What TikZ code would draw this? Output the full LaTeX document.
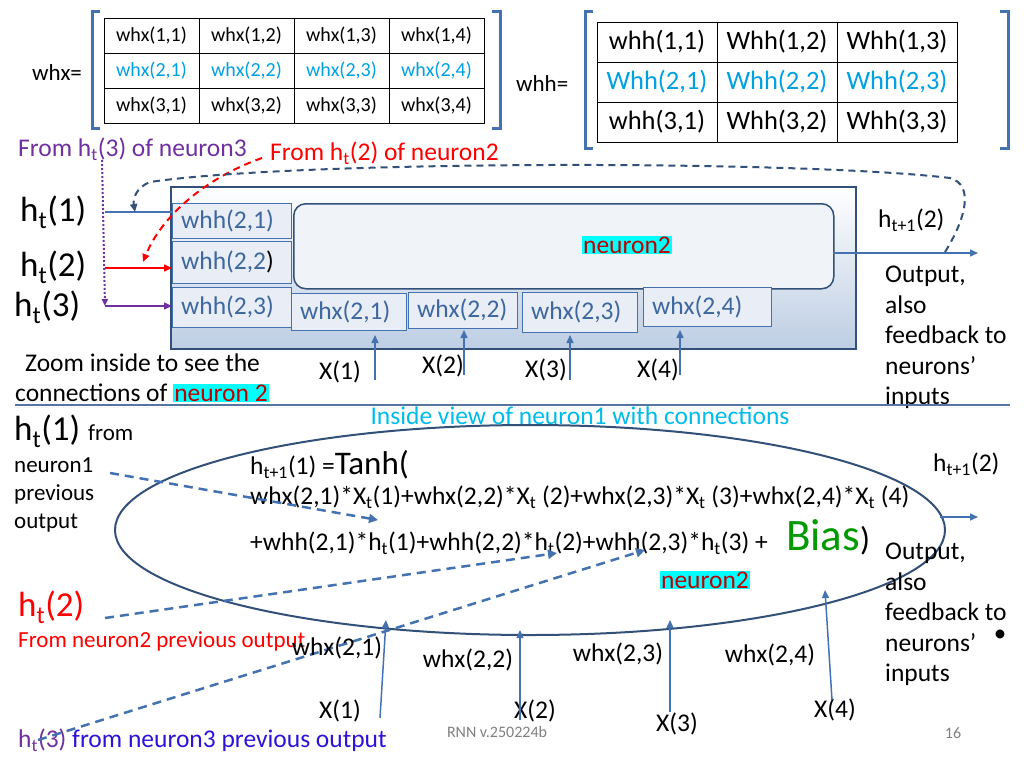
\documentclass[tikz,border=0pt]{standalone}
\usepackage{fontspec}
\setmainfont{Carlito}
\usetikzlibrary{arrows.meta,shadows,shapes.geometric}
\definecolor{bl}{RGB}{68,114,176}
\definecolor{cy}{RGB}{0,160,225}
\definecolor{pu}{RGB}{112,48,160}
\definecolor{dk}{RGB}{50,80,120}
\definecolor{cyb}{RGB}{0,255,255}
\definecolor{dred}{RGB}{192,0,0}
\begin{document}
\begin{tikzpicture}[x=1pt,y=-1pt,
 cell/.style={draw=black,thick,minimum width=95pt,minimum height=35pt,inner sep=0pt,font=\fontsize{20}{20}\selectfont},
 hcell/.style={draw=black,thick,minimum width=120pt,minimum height=40pt,inner sep=0pt,font=\fontsize{26.5}{26.5}\selectfont},
 brk/.style={line width=3pt,bl},
 txt/.style={inner sep=0pt,anchor=west},
 wbox/.style={draw=bl,fill=bl!12,inner xsep=9pt,inner ysep=0pt,font=\fontsize{25.5}{25.5}\selectfont,text=bl!90!black,align=left,anchor=north west},
 ar/.style={bl,line width=1.5pt,-{Triangle[length=8pt,width=7pt]}},
 da/.style={bl,line width=2.5pt,dash pattern=on 9pt off 6pt,-{Triangle[length=9pt,width=9pt]}},
 big/.style={font=\fontsize{35}{35}\selectfont},
 mid/.style={font=\fontsize{25.5}{25.5}\selectfont},
 outl/.style={inner sep=0pt,align=left,anchor=north west,font=\fontsize{25.5}{30.5}\selectfont},
 sm/.style={font=\fontsize{23}{28}\selectfont},
 hl/.style={fill=cyb,text=dred,inner sep=1pt}]
\useasboundingbox (0,0) rectangle (1024,768);
% whx matrix
\foreach \r in {1,2,3}{\foreach \c in {1,2,3,4}{
 \pgfmathsetmacro\xx{104+95*(\c-0.5)}\pgfmathsetmacro\yy{18+35*(\r-0.5)}
 \ifnum\r=2 \node[cell,text=cy] (x\r\c) at (\xx,\yy) {whx(\r,\c)};
 \else \node[cell] (x\r\c) at (\xx,\yy) {whx(\r,\c)};\fi}}
\draw[brk] (100,12)--(92,12)--(92,128)--(100,128);
\draw[brk] (492,12)--(500,12)--(500,128)--(492,128);
\node[txt,sm] (whxl) at (32,73) {whx=};
% whh matrix
\foreach \r in {1,2,3}{\foreach \c in {1,2,3}{
 \pgfmathsetmacro\xx{597+120*(\c-0.5)}\pgfmathsetmacro\yy{22+40*(\r-0.5)}
 \ifnum\r=2 \node[hcell,text=cy] (h\r\c) at (\xx,\yy) {Whh(\r,\c)};
 \else\ifnum\c=1 \node[hcell] (h\r\c) at (\xx,\yy) {whh(\r,\c)};
 \else \node[hcell] (h\r\c) at (\xx,\yy) {Whh(\r,\c)};\fi\fi}}
\draw[brk] (593,12)--(585,12)--(585,148)--(593,148);
\draw[brk] (1000,12)--(1008,12)--(1008,148)--(1000,148);
\node[txt,sm] (whhl) at (516,84) {whh=};
% labels top
\node[txt,text=pu,mid] (f3) at (18,149) {From h\textsubscript{t}(3) of neuron3};
\node[txt,text=red,mid] (f2) at (270,153) {From h\textsubscript{t}(2) of neuron2};
% main box
\node[draw=dk,line width=1.5pt,top color=white,bottom color=bl!35,minimum width=685pt,minimum height=162pt,inner sep=0pt,anchor=north west] (mb) at (170,186) {};
\node[draw=dk,line width=1.5pt,rounded corners=12pt,fill=bl!8,minimum width=540pt,minimum height=85pt,anchor=north west] (ib) at (293,203) {};
\node[hl,mid] (n2a) at (627,245) {neuron2};
\node[wbox,text width=101pt,minimum height=35pt] (w21) at (172,203) {whh(2,1)};
\node[wbox,text width=101pt,minimum height=42pt] (w22) at (172,241) {whh(2,2\textcolor{black}{)}};
\node[wbox,text width=101pt,minimum height=40pt] (w23) at (172,287) {whh(2,3)};
\node[wbox,text width=97pt,minimum height=37pt] (x21) at (291,293) {whx(2,1)};
\node[wbox,text width=91pt,minimum height=36pt] (x22) at (408,292) {whx(2,2)};
\node[wbox,text width=97pt,minimum height=40pt] (x23) at (522,292) {whx(2,3)};
\node[wbox,text width=110pt,minimum height=39pt] (x24) at (643,287) {whx(2,4)};
% left inputs
\node[txt,big] (h1) at (20,212) {h\textsubscript{t}(1)};
\node[txt,big] (h2) at (20,267) {h\textsubscript{t}(2)};
\node[txt,big] (h3) at (14,307) {h\textsubscript{t}(3)};
\coordinate (a1) at (105,212); \coordinate (a2) at (105,268); \coordinate (a3) at (105,306);
\draw[bl,line width=1.5pt] (a1) -- (172,212);
\draw[ar,red] (a2) -- (w22.west|-a2);
\draw[ar,pu] (a3) -- (w23.west|-a3);
\draw[pu,line width=2pt,dotted,-{Triangle[length=7pt,width=6pt]}] (102,160) -- (a3);
\draw[red,line width=2pt,dash pattern=on 7pt off 5pt,-{Triangle[length=8pt,width=7pt]}] (262,158) .. controls (200,180) and (160,220) .. (143,262);
% output + feedback
\coordinate (o1) at (978,253);
\draw[ar] (833,253) -- (o1);
\draw[dk,line width=2pt,dash pattern=on 7pt off 5pt,-{Triangle[length=8pt,width=7pt]}] (945,252) .. controls (965,220) and (975,185) .. (950,178) .. controls (800,160) and (300,160) .. (150,182) .. controls (135,188) and (133,200) .. (135,212);
\node[txt,mid] (hp1) at (878,220) {h\textsubscript{t+1}(2)};
\node[outl] (out1) at (885,266) {Output,\\also\\feedback to\\neurons'\\inputs};
% X inputs top
\node[mid] (X1) at (340,372) {X(1)};
\node[mid] (X2) at (443,366) {X(2)};
\node[mid] (X3) at (546,370) {X(3)};
\node[mid] (X4) at (658,370) {X(4)};
\draw[ar] (375,380) -- (375,335);
\draw[ar] (464,375) -- (464,330);
\draw[ar] (570,380) -- (570,335);
\draw[ar] (680,375) -- (680,330);
\node[txt,mid] (z1) at (25,363) {Zoom inside to see the};
\node[txt,mid] (z2) at (15,393) {connections of \fboxsep=1pt\colorbox{cyb}{\textcolor{dred}{neuron 2}}};
\draw[bl!70!gray,line width=2pt,drop shadow={shadow xshift=0pt,shadow yshift=-2pt}] (15,405) -- (1010,405);
\node[mid,text=cy!70!cyb] (iv) at (580,416) {Inside view of neuron1 with connections};
% ellipse
\node[draw=dk,line width=2pt,ellipse,minimum width=830pt,minimum height=210pt,inner sep=0pt] (el) at (530,530) {};
\node[txt,mid] (e1) at (250,465) {h\textsubscript{t+1}(1) =\fontsize{33}{33}\selectfont Tanh(};
\node[txt,mid] (e2) at (250,497) {whx(2,1)*X\textsubscript{t}(1)+whx(2,2)*X\textsubscript{t} (2)+whx(2,3)*X\textsubscript{t} (3)+whx(2,4)*X\textsubscript{t} (4)};
\node[txt,mid] (e3) at (250,543) {+whh(2,1)*h\textsubscript{t}(1)+whh(2,2)*h\textsubscript{t}(2)+whh(2,3)*h\textsubscript{t}(3) +};
\node[txt,font=\fontsize{45}{45}\selectfont] (bias) at (786,537) {\textcolor{green!60!black}{Bias}\fontsize{33}{33}\selectfont)};
\node[hl,mid] (n2b) at (705,580) {neuron2};
\node[txt,mid] (hp2) at (933,464) {h\textsubscript{t+1}(2)};
\draw[ar] (940,517) -- (978,517);
\node[outl] (out2) at (885,543) {Output,\\also\\feedback to\\neurons'\\inputs};
\node[font=\fontsize{25}{25}\selectfont] (bul) at (1000,636) {•};
% left lower
\node[txt] (l1) at (14,431) {\fontsize{35}{35}\selectfont h\textsubscript{t}(1) \fontsize{23}{23}\selectfont from};
\node[txt,sm,align=left,anchor=north west] (l1b) at (14,457) {neuron1\\previous\\output};
\node[txt,big,text=red] (l2) at (18,607) {h\textsubscript{t}(2)};
\node[txt,text=red,sm] (l2b) at (18,641) {From neuron2 previous output};
\node[txt,mid,text=pu!40!blue] (l3) at (18,740) {\textcolor{pu}{h\textsubscript{t}(3)} from neuron3 previous output};
\draw[da] (110,473) -- (378,520);
\draw[da] (105,618) -- (557,553);
\draw[da] (38,740) -- (645,550);
% lower X
\node[mid] (wx1) at (337,648) {whx(2,1)};
\node[mid] (wx2) at (468,660) {whx(2,2)};
\node[mid] (wx3) at (618,654) {whx(2,3)};
\node[mid] (wx4) at (770,655) {whx(2,4)};
\node[mid] (Y1) at (340,711) {X(1)};
\node[mid] (Y2) at (535,711) {X(2)};
\node[mid] (Y3) at (677,724) {X(3)};
\node[mid] (Y4) at (835,710) {X(4)};
\draw[ar] (380,718) -- (386,620);
\draw[ar] (520,720) -- (520,630);
\draw[ar] (670,712) -- (670,620);
\draw[ar] (832,700) -- (825,590);
\node[text=gray,font=\fontsize{16}{16}\selectfont] (ft) at (497,732) {RNN v.250224b};
\node[text=gray,font=\fontsize{16}{16}\selectfont] (pg) at (953,733) {16};
\end{tikzpicture}
\end{document}
